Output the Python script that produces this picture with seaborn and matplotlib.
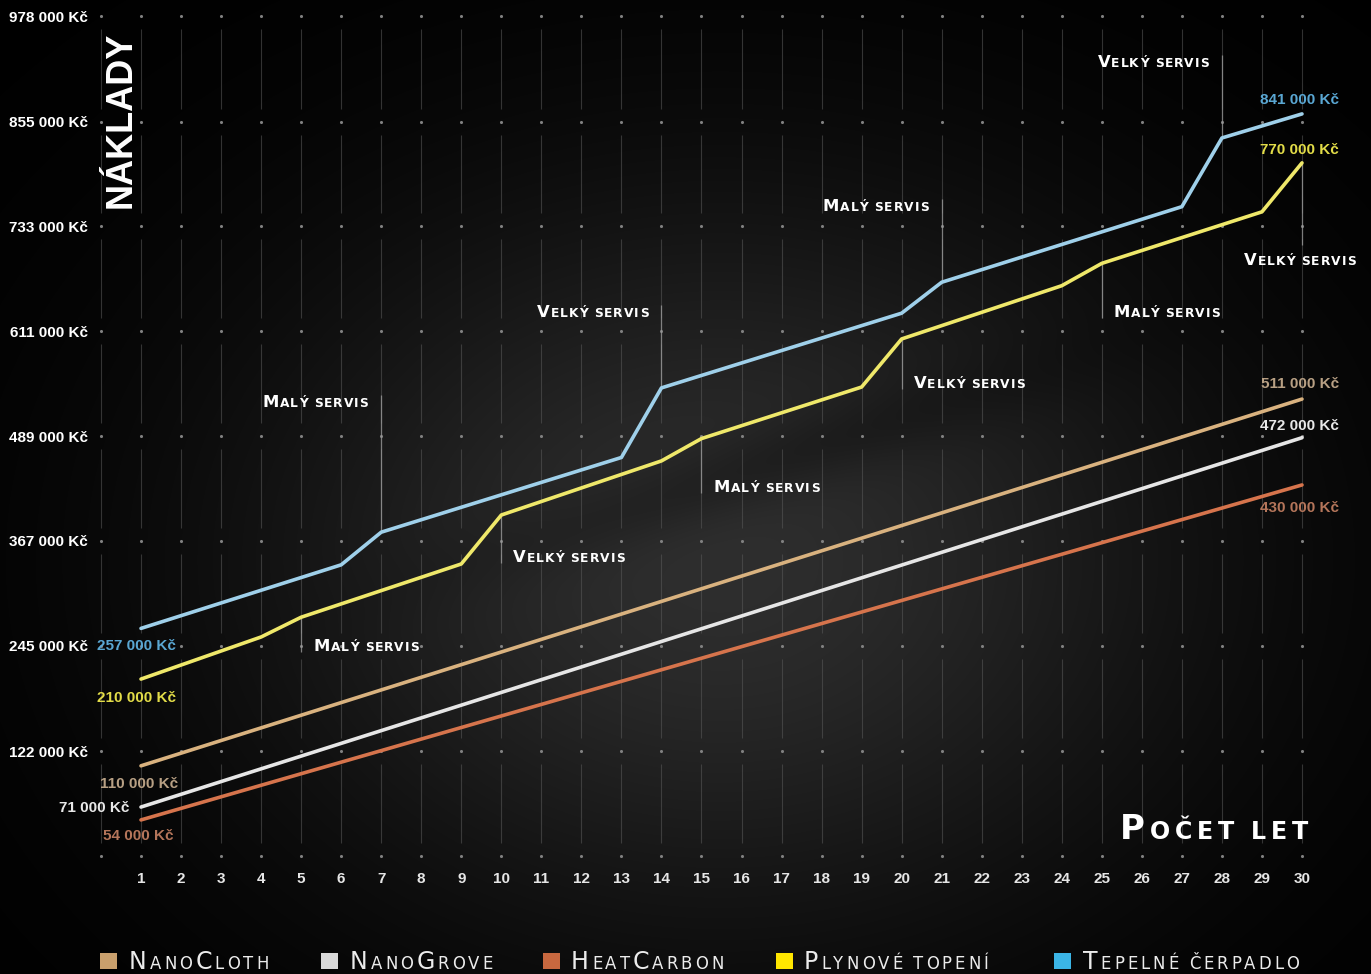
import numpy as np
import pandas as pd
import matplotlib
matplotlib.use("Agg")
import matplotlib.pyplot as plt
from matplotlib.patches import Rectangle
import seaborn as sns

# ---------------- data ----------------
years_heat_pump = [1, 6, 7, 13, 14, 20, 21, 27, 28, 30]
cost_heat_pump = [265000, 339000, 377000, 464000, 545000, 632000, 668000, 756000, 836000, 864000]
years_gas = [1, 4, 5, 9, 10, 14, 15, 19, 20, 24, 25, 29, 30]
cost_gas = [206000, 255000, 278000, 340000, 397000, 460000, 486000, 546000, 602000, 664000, 690000, 750000, 807000]
years_straight = [1, 30]
cost_nanocloth = [105000, 532000]
cost_nanogrove = [57000, 487000]
cost_heatcarbon = [42000, 432000]

series_names = ["NanoCloth", "NanoGrove", "HeatCarbon", "Plynové topení", "Tepelné čerpadlo"]
start_labels = ["110 000 Kč", "71 000 Kč", "54 000 Kč", "210 000 Kč", "257 000 Kč"]
end_labels = ["511 000 Kč", "472 000 Kč", "430 000 Kč", "770 000 Kč", "841 000 Kč"]

x_ticks = list(range(1, 31))
y_ticks = [122000, 245000, 367000, 489000, 611000, 733000, 855000, 978000]
y_tick_labels = ["122 000 Kč", "245 000 Kč", "367 000 Kč", "489 000 Kč",
                 "611 000 Kč", "733 000 Kč", "855 000 Kč", "978 000 Kč"]

service_heat_pump_years = [7, 14, 21, 28]
service_heat_pump_text = ["Malý servis", "Velký servis", "Malý servis", "Velký servis"]
service_gas_years = [5, 10, 15, 20, 25, 30]
service_gas_text = ["Malý servis", "Velký servis", "Malý servis", "Velký servis", "Malý servis", "Velký servis"]

x_title = "Počet let"
y_title = "NÁKLADY"

# ---------------- style ----------------
line_colors = ["#d9b27f", "#e6e6e6", "#d6744c", "#efe86a", "#9fd0ea"]
label_colors = ["#b8a084", "#e8e8e8", "#b4755a", "#e2dc48", "#5aa7d3"]
legend_colors = ["#c9a06d", "#d9d9d9", "#c8683f", "#ffe600", "#3bb5e6"]

W, H, DPI = 1371, 974, 100
sns.set_theme(style="dark")
plt.rcParams["font.family"] = ["Liberation Sans", "DejaVu Sans"]

fig = plt.figure(figsize=(W / DPI, H / DPI), dpi=DPI)
fig.patch.set_facecolor("black")

# pixel <-> data mapping (layout)
PX_X1 = 141.0
PX_PER_YEAR = (1302.0 - 141.0) / 29.0
PX_Y0 = 856.0
PX_PER_UNIT = (856.0 - 16.0) / 978000.0


def px_to_data(px, py):
    return 1 + (px - PX_X1) / PX_PER_YEAR, (PX_Y0 - py) / PX_PER_UNIT


def data_to_px(x, y):
    return PX_X1 + (x - 1) * PX_PER_YEAR, PX_Y0 - y * PX_PER_UNIT


def fx(px):
    return px / W


def fy(py):
    return 1 - py / H


# ---------------- background ----------------
bg = fig.add_axes([0, 0, 1, 1], zorder=-5)
yy, xx = np.mgrid[0:H, 0:W]
glow = 0.18 * np.exp(-(((xx - 720) / 480.0) ** 2 + ((yy - 560) / 370.0) ** 2))
band_c = 470 - 0.33 * (xx - 750)
band = 0.045 * np.exp(-((yy - band_c) / 38.0) ** 2) * np.exp(-((xx - 760) / 260.0) ** 2)
val = np.clip(glow - band, 0, 1)
img = np.dstack([val, val, val])
bg.imshow(img, extent=[0, W, H, 0], aspect="auto", interpolation="bilinear")
bg.set_xlim(0, W)
bg.set_ylim(H, 0)
bg.axis("off")

# ---------------- main axes ----------------
L, R, T, B = 95, 1355, 5, 866
ax = fig.add_axes([fx(L), fy(B), (R - L) / W, (B - T) / H], zorder=1)
ax.patch.set_alpha(0)
x_lo, y_hi = px_to_data(L, T)
x_hi, y_lo = px_to_data(R, B)
ax.set_xlim(x_lo, x_hi)
ax.set_ylim(y_lo, y_hi)
for s in ax.spines.values():
    s.set_visible(False)
ax.grid(False)

# dotted grid + faint vertical lines
rows = [0] + y_ticks
cols = list(range(0, 31))
gx, gy = np.meshgrid(cols, rows)
ax.scatter(gx.ravel(), gy.ravel(), s=5, color="#808080", linewidths=0, zorder=1, clip_on=False)
gap = 13 / PX_PER_UNIT
seg_x, seg_lo, seg_hi = [], [], []
for c in cols:
    for a, b in zip(rows[:-1], rows[1:]):
        seg_x.append(c)
        seg_lo.append(a + gap)
        seg_hi.append(b - gap)
ax.vlines(seg_x, seg_lo, seg_hi, color="#5a5a5a", lw=0.8, alpha=0.55, zorder=1)

# series lines
df_lines = [
    (years_straight, cost_nanocloth, line_colors[0]),
    (years_straight, cost_nanogrove, line_colors[1]),
    (years_straight, cost_heatcarbon, line_colors[2]),
    (years_gas, cost_gas, line_colors[3]),
    (years_heat_pump, cost_heat_pump, line_colors[4]),
]
for xs, ys, col in df_lines:
    d = pd.DataFrame({"rok": xs, "naklady": ys})
    sns.lineplot(data=d, x="rok", y="naklady", ax=ax, color=col, lw=2.6,
                 estimator=None, sort=False, zorder=3)
ax.set_xlabel("")
ax.set_ylabel("")

# ticks
ax.set_xticks(x_ticks)
ax.set_xticklabels([str(v) for v in x_ticks])
ax.set_yticks(y_ticks)
ax.set_yticklabels(y_tick_labels)
ax.tick_params(axis="both", length=0)
ax.tick_params(axis="x", pad=4, colors="#e6e6e6", labelsize=11)
ax.tick_params(axis="y", pad=5, colors="#ffffff", labelsize=11)
for t in ax.get_xticklabels() + ax.get_yticklabels():
    t.set_fontweight("bold")

# ---------------- small caps helper ----------------
renderer = fig.canvas.get_renderer()


def smallcaps(px, baseline, text, size, ratio=0.72, color="white", ha="left",
              family="DejaVu Sans", weight="bold", track=2.0, space=0.32):
    size_px = size * DPI / 72.0
    items = []
    total = 0.0
    for ch in text:
        if ch == " ":
            items.append((None, space * size_px))
            total += space * size_px
            continue
        big = ch.isupper() or ch.isdigit()
        s = size if big else size * ratio
        t = fig.text(0, 0, ch.upper(), fontsize=s, family=family, fontweight=weight,
                     color=color, ha="left", va="baseline", zorder=6)
        w = t.get_window_extent(renderer).width
        items.append((t, w))
        total += w + track
    total -= track
    if ha == "right":
        cur = px - total
    elif ha == "center":
        cur = px - total / 2
    else:
        cur = px
    for t, w in items:
        if t is None:
            cur += w
            continue
        t.set_position((fx(cur), fy(baseline)))
        cur += w + track


# ---------------- service annotations ----------------
hp_lookup = dict(zip(years_heat_pump, cost_heat_pump))
gas_lookup = dict(zip(years_gas, cost_gas))
hp_text_center = [401, 311, 205, 61]
gas_text_center = [645, 556, 486, 382, 311, 259]
lead_col = "#9a9a9a"
ANN_SIZE, ANN_RATIO, ANN_TRACK = 11.8, 0.75, 1.0

for yr, txt, tc in zip(service_heat_pump_years, service_heat_pump_text, hp_text_center):
    lx, ly = data_to_px(yr, hp_lookup[yr])
    top = px_to_data(lx, tc - 6)[1]
    ax.vlines(yr, hp_lookup[yr], top, color=lead_col, lw=0.9, alpha=0.8, zorder=2)
    smallcaps(lx - 13, tc + 6, txt, ANN_SIZE, ratio=ANN_RATIO, track=ANN_TRACK, ha="right")

for i, (yr, txt, tc) in enumerate(zip(service_gas_years, service_gas_text, gas_text_center)):
    lx, ly = data_to_px(yr, gas_lookup[yr])
    if i == len(service_gas_years) - 1:
        bot = px_to_data(lx, 245)[1]
        ax.vlines(yr, bot, gas_lookup[yr], color=lead_col, lw=0.9, alpha=0.8, zorder=2)
        smallcaps(lx - 2, tc + 6, txt, ANN_SIZE, ratio=ANN_RATIO, track=ANN_TRACK, ha="center")
    else:
        bot = px_to_data(lx, tc + 7)[1]
        ax.vlines(yr, bot, gas_lookup[yr], color=lead_col, lw=0.9, alpha=0.8, zorder=2)
        smallcaps(lx + 12, tc + 6, txt, ANN_SIZE, ratio=ANN_RATIO, track=ANN_TRACK, ha="left")

# ---------------- value labels ----------------
start_pos = [(100, 783, "left"), (129, 807, "right"), (103, 835, "left"),
             (97, 697, "left"), (97, 645, "left")]
end_pos = [383, 424, 507, 148, 99]
for lab, (px, py, ha), col in zip(start_labels, start_pos, label_colors):
    fig.text(fx(px), fy(py), lab, color=col, fontsize=11, fontweight="bold",
             ha=ha, va="center_baseline", family=["Liberation Sans", "DejaVu Sans"])
for lab, py, col in zip(end_labels, end_pos, label_colors):
    fig.text(fx(1339), fy(py), lab, color=col, fontsize=11, fontweight="bold",
             ha="right", va="center_baseline", family=["Liberation Sans", "DejaVu Sans"])

# ---------------- titles ----------------
fig.text(fx(121), fy(120), y_title, rotation=90, color="white", fontsize=26,
         fontweight="bold", ha="center", va="center", family=["Liberation Sans", "DejaVu Sans"])
smallcaps(1308, 839, x_title, 24.5, ratio=0.7, ha="right", track=5.0)

# ---------------- legend ----------------
sq_left = [100, 321, 543, 776, 1054]
txt_left = [129, 350, 571, 804, 1083]
for name, col, sl, tl in zip(series_names, legend_colors, sq_left, txt_left):
    fig.add_artist(Rectangle((fx(sl), fy(969)), 17 / W, 16 / H, transform=fig.transFigure,
                             facecolor=col, edgecolor="none"))
    smallcaps(tl, 969, name, 17.0, ratio=0.7, color="#ececec", weight="normal", track=3.0)

fig.savefig("out.png", dpi=DPI, facecolor="black")
